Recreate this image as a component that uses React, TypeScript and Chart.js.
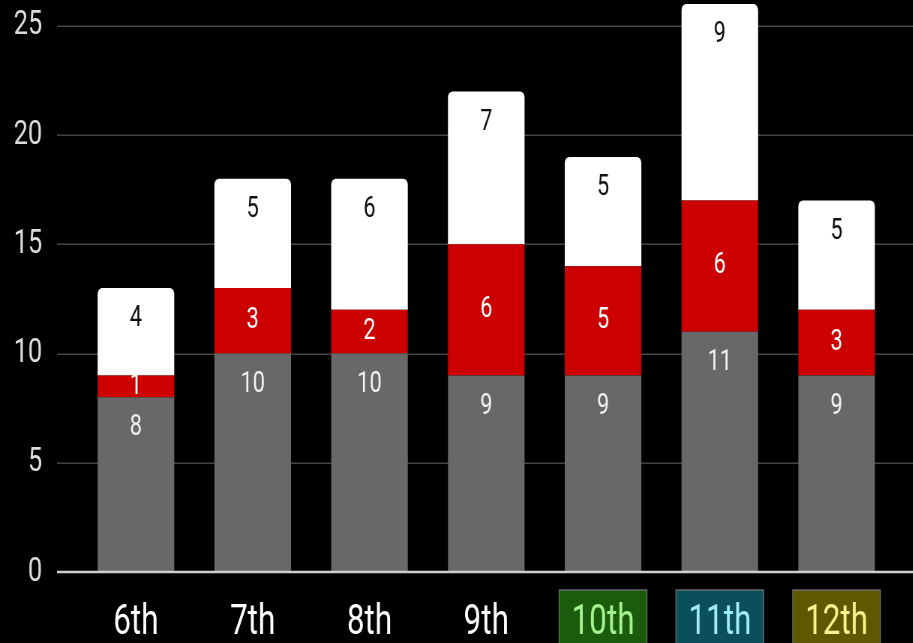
import React, { useEffect, useRef } from 'react';
import { Chart, registerables } from 'chart.js';

Chart.register(...registerables);

const categories = ['6th', '7th', '8th', '9th', '10th', '11th', '12th'];
const grayValues = [8, 10, 10, 9, 9, 11, 9];
const redValues = [1, 3, 2, 6, 5, 6, 3];
const whiteValues = [4, 5, 6, 7, 5, 9, 5];
const yTickValues = [0, 5, 10, 15, 20, 25];
const yMax = 26;
const labelBoxFills = [null, null, null, null, '#1a5c0b', '#0b4e5d', '#5e5900'];
const labelTextColors = ['#ffffff', '#ffffff', '#ffffff', '#ffffff', '#a6f28e', '#a2eaf6', '#f6f28e'];

const SCALE_X = 0.75;
const INNER_W = 913 / SCALE_X;
const INNER_H = 700;
const OFFSET_TOP = -20;
const GRID_LEFT = 76;
const CHART_BOTTOM = 592;

const customPlugin = {
  id: 'customDraw',
  beforeDraw(chart: any) {
    const ctx = chart.ctx;
    const xs = chart.scales.x;
    const area = chart.chartArea;
    ctx.save();
    labelBoxFills.forEach((fill, i) => {
      if (!fill) return;
      const cx = xs.getPixelForTick(i);
      const w = 116.8;
      const top = area.bottom + 18;
      ctx.fillStyle = fill;
      ctx.fillRect(cx - w / 2, top, w, 120);
      ctx.strokeStyle = '#6a6a6a';
      ctx.lineWidth = 1.5;
      ctx.strokeRect(cx - w / 2, top, w, 120);
    });
    ctx.restore();
  },
  beforeDatasetsDraw(chart: any) {
    const ctx = chart.ctx;
    const ys = chart.scales.y;
    ctx.save();
    ctx.strokeStyle = '#444444';
    ctx.lineWidth = 1.5;
    ys.ticks.forEach((t: any) => {
      if (t.value === 0) return;
      const py = Math.round(ys.getPixelForValue(t.value)) + 0.25;
      ctx.beginPath();
      ctx.moveTo(GRID_LEFT, py);
      ctx.lineTo(chart.width, py);
      ctx.stroke();
    });
    ctx.restore();
  },
  afterDatasetsDraw(chart: any) {
    const ctx = chart.ctx;
    const ys = chart.scales.y;
    ctx.save();
    const py0 = ys.getPixelForValue(0);
    ctx.strokeStyle = '#cfcfcf';
    ctx.lineWidth = 2.5;
    ctx.beginPath();
    ctx.moveTo(GRID_LEFT, py0);
    ctx.lineTo(chart.width, py0);
    ctx.stroke();
    ctx.font = '29px Roboto';
    ctx.textAlign = 'center';
    ctx.textBaseline = 'middle';
    chart.data.datasets.forEach((ds: any, di: number) => {
      const meta = chart.getDatasetMeta(di);
      meta.data.forEach((el: any, i: number) => {
        const v = ds.data[i];
        const top = Math.min(el.y, el.base);
        const bottom = Math.max(el.y, el.base);
        let y;
        if (di === 1) y = (top + bottom) / 2;
        else y = top + 31;
        ctx.fillStyle = ds.labelColor;
        ctx.fillText(String(v), el.x, y);
      });
    });
    ctx.restore();
  },
};

export default function App() {
  const canvasRef = useRef<HTMLCanvasElement | null>(null);

  useEffect(() => {
    if (!canvasRef.current) return;
    Chart.defaults.font.family = 'Roboto';
    const chart = new Chart(canvasRef.current, {
      type: 'bar',
      data: {
        labels: categories,
        datasets: [
          {
            label: 'gray',
            data: grayValues,
            backgroundColor: '#686868',
            borderWidth: 0,
            labelColor: '#f2f2f2',
          } as any,
          {
            label: 'red',
            data: redValues,
            backgroundColor: '#cc0000',
            borderWidth: 0,
            labelColor: '#ffffff',
          } as any,
          {
            label: 'white',
            data: whiteValues,
            backgroundColor: '#ffffff',
            borderWidth: 0,
            borderRadius: { topLeft: 6, topRight: 6, bottomLeft: 0, bottomRight: 0 },
            borderSkipped: 'start',
            labelColor: '#111111',
          } as any,
        ],
      },
      options: {
        animation: false,
        responsive: true,
        maintainAspectRatio: false,
        devicePixelRatio: 1,
        layout: { padding: { top: 24, right: 24, left: 0, bottom: 0 } },
        plugins: {
          legend: { display: false },
          tooltip: { enabled: false },
        },
        datasets: {
          bar: { categoryPercentage: 0.8, barPercentage: 0.82 },
        },
        scales: {
          x: {
            stacked: true,
            grid: { display: false, drawTicks: false },
            border: { display: false },
            ticks: {
              font: { size: 42 },
              color: (ctx: any) => labelTextColors[ctx.index] || '#ffffff',
              padding: 26,
              maxRotation: 0,
              autoSkip: false,
            },
            afterFit: (scale: any) => {
              scale.height = INNER_H - CHART_BOTTOM;
            },
          },
          y: {
            stacked: true,
            min: 0,
            max: yMax,
            grid: { display: false, drawTicks: true, tickLength: 45 },
            border: { display: false },
            afterBuildTicks: (scale: any) => {
              scale.ticks = yTickValues.map((v) => ({ value: v }));
            },
            ticks: {
              font: { size: 34 },
              color: '#dddddd',
              padding: 2,
              includeBounds: false,
            },
            afterFit: (scale: any) => {
              scale.width = 103.4;
            },
          },
        },
      } as any,
      plugins: [customPlugin],
    });
    return () => chart.destroy();
  }, []);

  return (
    <div
      style={{
        position: 'fixed',
        left: 0,
        top: 0,
        width: 913,
        height: 643,
        overflow: 'hidden',
        background: '#000000',
      }}
    >
      <div
        style={{
          position: 'absolute',
          left: 0,
          top: OFFSET_TOP,
          width: INNER_W,
          height: INNER_H,
          transform: `scaleX(${SCALE_X})`,
          transformOrigin: '0 0',
        }}
      >
        <canvas ref={canvasRef} />
      </div>
    </div>
  );
}
